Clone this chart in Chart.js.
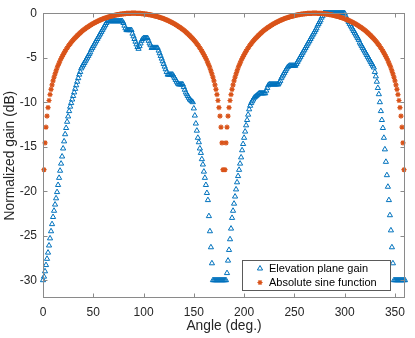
<!DOCTYPE html>
<html>
<head>
<meta charset="utf-8">
<title>Elevation plane gain</title>
<script src="https://cdn.jsdelivr.net/npm/chart.js@4.4.1/dist/chart.umd.min.js"></script>
<style>
  body { margin: 0; background: #fff; }
  #chart { display: block; }
</style>
</head>
<body>
<canvas id="chart" width="415" height="338"></canvas>
<script>
// angles in degrees
const angles = [
  0, 1, 2, 3, 4, 5, 6, 7, 8, 9, 10, 11, 12, 13, 14, 15, 16, 17, 18, 19,
  20, 21, 22, 23, 24, 25, 26, 27, 28, 29, 30, 31, 32, 33, 34, 35, 36, 37, 38, 39,
  40, 41, 42, 43, 44, 45, 46, 47, 48, 49, 50, 51, 52, 53, 54, 55, 56, 57, 58, 59,
  60, 61, 62, 63, 64, 65, 66, 67, 68, 69, 70, 71, 72, 73, 74, 75, 76, 77, 78, 79,
  80, 81, 82, 83, 84, 85, 86, 87, 88, 89, 90, 91, 92, 93, 94, 95, 96, 97, 98, 99,
  100, 101, 102, 103, 104, 105, 106, 107, 108, 109, 110, 111, 112, 113, 114, 115, 116, 117, 118, 119,
  120, 121, 122, 123, 124, 125, 126, 127, 128, 129, 130, 131, 132, 133, 134, 135, 136, 137, 138, 139,
  140, 141, 142, 143, 144, 145, 146, 147, 148, 149, 150, 151, 152, 153, 154, 155, 156, 157, 158, 159,
  160, 161, 162, 163, 164, 165, 166, 167, 168, 169, 170, 171, 172, 173, 174, 175, 176, 177, 178, 179,
  180, 181, 182, 183, 184, 185, 186, 187, 188, 189, 190, 191, 192, 193, 194, 195, 196, 197, 198, 199,
  200, 201, 202, 203, 204, 205, 206, 207, 208, 209, 210, 211, 212, 213, 214, 215, 216, 217, 218, 219,
  220, 221, 222, 223, 224, 225, 226, 227, 228, 229, 230, 231, 232, 233, 234, 235, 236, 237, 238, 239,
  240, 241, 242, 243, 244, 245, 246, 247, 248, 249, 250, 251, 252, 253, 254, 255, 256, 257, 258, 259,
  260, 261, 262, 263, 264, 265, 266, 267, 268, 269, 270, 271, 272, 273, 274, 275, 276, 277, 278, 279,
  280, 281, 282, 283, 284, 285, 286, 287, 288, 289, 290, 291, 292, 293, 294, 295, 296, 297, 298, 299,
  300, 301, 302, 303, 304, 305, 306, 307, 308, 309, 310, 311, 312, 313, 314, 315, 316, 317, 318, 319,
  320, 321, 322, 323, 324, 325, 326, 327, 328, 329, 330, 331, 332, 333, 334, 335, 336, 337, 338, 339,
  340, 341, 342, 343, 344, 345, 346, 347, 348, 349, 350, 351, 352, 353, 354, 355, 356, 357, 358, 359,
  360
];

// measured elevation gain (dB), one value per angle
const elevationGain = [
  -30, -29.6, -29.0, -28.3, -27.6, -26.9, -26.1, -25.3, -24.5, -23.7,
  -22.9, -22.2, -21.5, -20.8, -20.1, -19.3, -18.5, -17.7, -16.9, -16.1,
  -15.2, -14.4, -13.6, -12.9, -12.2, -11.6, -11.0, -10.5, -10.1, -9.7,
  -9.3, -8.9, -8.5, -8.1, -7.7, -7.3, -6.9, -6.6, -6.2, -6.0,
  -5.8, -5.6, -5.4, -5.2, -5.0, -4.8, -4.6, -4.4, -4.1, -3.9,
  -3.7, -3.5, -3.3, -3.1, -2.9, -2.7, -2.5, -2.3, -2.1, -1.9,
  -1.7, -1.5, -1.3, -1.1, -0.9, -0.9, -0.9, -0.9, -0.9, -0.9,
  -0.9, -0.9, -0.9, -0.9, -0.9, -0.9, -0.9, -0.9, -0.9, -0.9,
  -1.1, -1.4, -1.7, -1.9, -1.9, -1.9, -1.9, -1.9, -1.9, -2.3,
  -2.6, -2.9, -3.2, -3.5, -3.8, -4.0, -3.7, -3.4, -3.1, -2.9,
  -2.8, -2.8, -2.8, -2.8, -2.8, -3.1, -3.4, -3.6, -3.9, -3.9,
  -3.9, -3.9, -3.9, -3.9, -3.9, -4.2, -4.5, -4.8, -5.1, -5.4,
  -5.7, -6.0, -6.3, -6.6, -6.9, -6.9, -6.9, -6.9, -6.9, -6.9,
  -7.1, -7.3, -7.5, -7.7, -7.9, -8.0, -8.0, -8.0, -8.0, -8.0,
  -8.3, -8.6, -8.9, -9.1, -9.3, -9.5, -9.7, -9.8, -9.9, -10.0,
  -10.7, -11.5, -12.4, -13.2, -14.0, -14.5, -15.2, -15.7, -16.4, -17.0,
  -17.8, -18.5, -19.3, -20.2, -21.0, -22.8, -24.5, -26.3, -28.1, -30,
  -30, -30, -30, -30, -30, -30, -30, -30, -30, -30,
  -30, -30, -30, -29.2, -27.8, -26.6, -25.4, -24.2, -23.0, -22.2,
  -21.4, -20.6, -19.8, -19.0, -18.3, -17.6, -16.9, -16.2, -15.4, -14.7,
  -14.0, -13.3, -12.6, -12.0, -11.4, -10.8, -10.4, -10.1, -9.9, -9.7,
  -9.5, -9.4, -9.3, -9.2, -9.1, -9.0, -9.0, -9.0, -9.0, -9.0,
  -9.0, -9.0, -8.7, -8.4, -8.1, -8.0, -8.0, -8.0, -8.0, -8.0,
  -8.0, -8.0, -8.0, -8.0, -8.0, -7.8, -7.6, -7.3, -7.1, -6.9,
  -6.7, -6.5, -6.3, -6.1, -6.0, -5.9, -5.9, -5.9, -5.9, -5.9,
  -5.9, -5.9, -5.7, -5.5, -5.3, -5.1, -4.9, -4.7, -4.5, -4.3,
  -4.1, -3.9, -3.7, -3.5, -3.3, -3.1, -2.9, -2.7, -2.5, -2.3,
  -2.1, -1.9, -1.7, -1.4, -1.2, -1.0, -0.8, -0.5, -0.3, 0,
  0, 0, 0, 0, 0, 0, 0, 0, 0, 0,
  0, 0, 0, 0, 0, 0, 0, 0, 0, 0,
  0, -0.3, -0.6, -0.8, -1.0, -1.2, -1.4, -1.6, -1.8, -2.0,
  -2.2, -2.4, -2.6, -2.8, -3.0, -3.3, -3.5, -3.7, -3.9, -4.1,
  -4.3, -4.5, -4.7, -4.9, -5.1, -5.3, -5.5, -5.7, -5.9, -6.1,
  -6.6, -7.1, -7.7, -8.4, -9.1, -10.0, -11.0, -12.0, -12.9, -14.0,
  -15.3, -16.7, -18.2, -19.5, -21.0, -22.7, -24.4, -26.3, -28.1, -30,
  -30, -30, -30, -30, -30, -30, -30, -30, -30, -30,
  -30
];

// absolute sine function in dB (null where it goes to -inf)
const sineGain = [
  null, -17.58, -14.57, -12.81, -11.56, -10.60, -9.81, -9.14, -8.56, -8.06,
  -7.60, -7.19, -6.82, -6.48, -6.16, -5.87, -5.60, -5.34, -5.10, -4.87,
  -4.66, -4.46, -4.26, -4.08, -3.91, -3.74, -3.58, -3.43, -3.28, -3.14,
  -3.01, -2.88, -2.76, -2.64, -2.52, -2.41, -2.31, -2.21, -2.11, -2.01,
  -1.92, -1.83, -1.74, -1.66, -1.58, -1.51, -1.43, -1.36, -1.29, -1.22,
  -1.16, -1.09, -1.03, -0.98, -0.92, -0.87, -0.81, -0.76, -0.72, -0.67,
  -0.62, -0.58, -0.54, -0.50, -0.46, -0.43, -0.39, -0.36, -0.33, -0.30,
  -0.27, -0.24, -0.22, -0.19, -0.17, -0.15, -0.13, -0.11, -0.10, -0.08,
  -0.07, -0.05, -0.04, -0.03, -0.02, -0.02, -0.01, -0.01, 0.00, 0.00,
  0.00, 0.00, 0.00, -0.01, -0.01, -0.02, -0.02, -0.03, -0.04, -0.05,
  -0.07, -0.08, -0.10, -0.11, -0.13, -0.15, -0.17, -0.19, -0.22, -0.24,
  -0.27, -0.30, -0.33, -0.36, -0.39, -0.43, -0.46, -0.50, -0.54, -0.58,
  -0.62, -0.67, -0.72, -0.76, -0.81, -0.87, -0.92, -0.98, -1.03, -1.09,
  -1.16, -1.22, -1.29, -1.36, -1.43, -1.51, -1.58, -1.66, -1.74, -1.83,
  -1.92, -2.01, -2.11, -2.21, -2.31, -2.41, -2.52, -2.64, -2.76, -2.88,
  -3.01, -3.14, -3.28, -3.43, -3.58, -3.74, -3.91, -4.08, -4.26, -4.46,
  -4.66, -4.87, -5.10, -5.34, -5.60, -5.87, -6.16, -6.48, -6.82, -7.19,
  -7.60, -8.06, -8.56, -9.14, -9.81, -10.60, -11.56, -12.81, -14.57, -17.58,
  null, -17.58, -14.57, -12.81, -11.56, -10.60, -9.81, -9.14, -8.56, -8.06,
  -7.60, -7.19, -6.82, -6.48, -6.16, -5.87, -5.60, -5.34, -5.10, -4.87,
  -4.66, -4.46, -4.26, -4.08, -3.91, -3.74, -3.58, -3.43, -3.28, -3.14,
  -3.01, -2.88, -2.76, -2.64, -2.52, -2.41, -2.31, -2.21, -2.11, -2.01,
  -1.92, -1.83, -1.74, -1.66, -1.58, -1.51, -1.43, -1.36, -1.29, -1.22,
  -1.16, -1.09, -1.03, -0.98, -0.92, -0.87, -0.81, -0.76, -0.72, -0.67,
  -0.62, -0.58, -0.54, -0.50, -0.46, -0.43, -0.39, -0.36, -0.33, -0.30,
  -0.27, -0.24, -0.22, -0.19, -0.17, -0.15, -0.13, -0.11, -0.10, -0.08,
  -0.07, -0.05, -0.04, -0.03, -0.02, -0.02, -0.01, -0.01, 0.00, 0.00,
  0.00, 0.00, 0.00, -0.01, -0.01, -0.02, -0.02, -0.03, -0.04, -0.05,
  -0.07, -0.08, -0.10, -0.11, -0.13, -0.15, -0.17, -0.19, -0.22, -0.24,
  -0.27, -0.30, -0.33, -0.36, -0.39, -0.43, -0.46, -0.50, -0.54, -0.58,
  -0.62, -0.67, -0.72, -0.76, -0.81, -0.87, -0.92, -0.98, -1.03, -1.09,
  -1.16, -1.22, -1.29, -1.36, -1.43, -1.51, -1.58, -1.66, -1.74, -1.83,
  -1.92, -2.01, -2.11, -2.21, -2.31, -2.41, -2.52, -2.64, -2.76, -2.88,
  -3.01, -3.14, -3.28, -3.43, -3.58, -3.74, -3.91, -4.08, -4.26, -4.46,
  -4.66, -4.87, -5.10, -5.34, -5.60, -5.87, -6.16, -6.48, -6.82, -7.19,
  -7.60, -8.06, -8.56, -9.14, -9.81, -10.60, -11.56, -12.81, -14.57, -17.58,
  null
];

const xTicks = [0, 50, 100, 150, 200, 250, 300, 350];
const yTicks = [-30, -25, -20, -15, -10, -5, 0];
const seriesNames = ['Elevation plane gain', 'Absolute sine function'];

const blue = '#0072BD';
const orange = '#D95319';
const textColor = '#262626';
const lineColor = '#8a8a8a';
const fontName = '"Liberation Sans", Arial, Helvetica, sans-serif';

// points for the scatter
const toPoints = (values) => angles.map((a, i) => ({ x: a, y: values[i] }));

// small marker drawing for the legend
const drawTriangle = (ctx, x, y, r) => {
  ctx.beginPath();
  for (let k = 0; k < 3; k++) {
    const rad = k * 2 * Math.PI / 3;
    const px = x + Math.sin(rad) * r;
    const py = y - Math.cos(rad) * r;
    if (k === 0) ctx.moveTo(px, py); else ctx.lineTo(px, py);
  }
  ctx.closePath();
  ctx.stroke();
}

const drawStar = (ctx, x, y, r) => {
  ctx.beginPath();
  ctx.moveTo(x - r, y); ctx.lineTo(x + r, y);
  ctx.moveTo(x, y - r); ctx.lineTo(x, y + r);
  const d = r * Math.SQRT1_2;
  ctx.moveTo(x - d, y - d); ctx.lineTo(x + d, y + d);
  ctx.moveTo(x - d, y + d); ctx.lineTo(x + d, y - d);
  ctx.stroke();
}

// box with inner ticks and legend, matlab style
const boxPlugin = {
  id: 'box',
  afterDraw: (chart) => {
    const ctx = chart.ctx;
    const area = chart.chartArea;
    const xs = chart.scales.x;
    const ys = chart.scales.y;
    const left = Math.round(area.left) + 0.5;
    const right = Math.round(area.right) - 0.5;
    const top = Math.round(area.top) + 0.5;
    const bottom = Math.round(area.bottom) - 0.5;
    const tick = 4;

    ctx.save();
    ctx.strokeStyle = lineColor;
    ctx.lineWidth = 1;
    ctx.strokeRect(left, top, right - left, bottom - top);

    ctx.beginPath();
    xTicks.forEach(v => {
      const px = Math.round(xs.getPixelForValue(v)) + 0.5;
      ctx.moveTo(px, bottom); ctx.lineTo(px, bottom - tick);
      ctx.moveTo(px, top); ctx.lineTo(px, top + tick);
    });
    yTicks.forEach(v => {
      const py = Math.round(ys.getPixelForValue(v)) + 0.5;
      ctx.moveTo(left, py); ctx.lineTo(left + tick, py);
      ctx.moveTo(right, py); ctx.lineTo(right - tick, py);
    });
    ctx.stroke();

    // legend box
    const lx = 242.5, ly = 260.5, lw = 148, lh = 30;
    ctx.fillStyle = '#fff';
    ctx.fillRect(lx, ly, lw, lh);
    ctx.strokeStyle = '#5a5a5a';
    ctx.strokeRect(lx, ly, lw, lh);

    ctx.lineWidth = 1;
    ctx.strokeStyle = blue;
    drawTriangle(ctx, 260, 268.5, 3);
    ctx.strokeStyle = orange;
    ctx.lineWidth = 1.2;
    drawStar(ctx, 260, 282.5, 2.6);

    ctx.fillStyle = '#000';
    ctx.font = '11px ' + fontName;
    ctx.textBaseline = 'middle';
    ctx.textAlign = 'left';
    ctx.fillText(seriesNames[0], 269, 268.5);
    ctx.fillText(seriesNames[1], 269, 282.5);
    ctx.restore();
  }
}

const chart = new Chart(document.getElementById('chart'), {
  type: 'scatter',
  data: {
    datasets: [{
      label: seriesNames[0],
      data: toPoints(elevationGain),
      pointStyle: 'triangle',
      pointRadius: 3,
      pointBorderWidth: 1,
      pointBorderColor: blue,
      pointBackgroundColor: 'rgba(0,0,0,0)',
      borderColor: blue,
      clip: false,
      order: 1
    }, {
      label: seriesNames[1],
      data: toPoints(sineGain),
      pointStyle: 'star',
      pointRadius: 2.6,
      pointBorderWidth: 1.2,
      pointBorderColor: orange,
      pointBackgroundColor: orange,
      borderColor: orange,
      clip: false,
      order: 0
    }]
  },
  options: {
    responsive: false,
    animation: false,
    devicePixelRatio: 1,
    events: [],
    layout: { padding: { top: 5, right: 10, bottom: 0, left: 0 } },
    plugins: {
      legend: { display: false },
      tooltip: { enabled: false }
    },
    scales: {
      x: {
        type: 'linear',
        min: 0,
        max: 360,
        afterBuildTicks: (scale) => { scale.ticks = xTicks.map(v => ({ value: v })); },
        afterFit: (scale) => { scale.height = 40; },
        grid: { display: false, drawTicks: false },
        border: { display: false },
        ticks: {
          color: textColor,
          autoSkip: false,
          maxRotation: 0,
          padding: 7,
          font: { family: fontName, size: 12 },
          callback: (v) => String(v)
        },
        title: {
          display: true,
          text: 'Angle (deg.)',
          color: textColor,
          font: { family: fontName, size: 13.8 },
          padding: { top: 0, bottom: 4 }
        }
      },
      y: {
        type: 'linear',
        min: -32,
        max: 0,
        afterBuildTicks: (scale) => { scale.ticks = yTicks.map(v => ({ value: v })); },
        afterFit: (scale) => { scale.width = 43; },
        grid: { display: false, drawTicks: false },
        border: { display: false },
        ticks: {
          color: textColor,
          padding: 6,
          font: { family: fontName, size: 12 },
          callback: (v) => String(v)
        },
        title: {
          display: true,
          text: 'Normalized gain (dB)',
          color: textColor,
          font: { family: fontName, size: 13.8 },
          padding: { top: 2, bottom: 0 }
        }
      }
    }
  },
  plugins: [boxPlugin]
});
</script>
</body>
</html>
